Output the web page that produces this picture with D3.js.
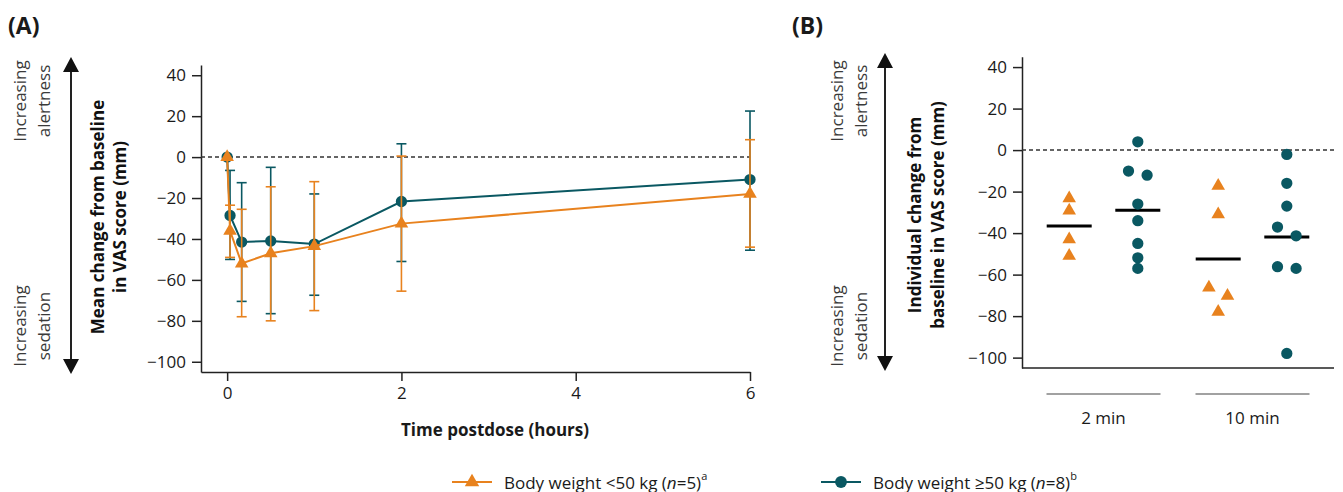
<!DOCTYPE html>
<html>
<head>
<meta charset="utf-8">
<script src="https://cdn.jsdelivr.net/npm/d3@7/dist/d3.min.js"></script>
<style>
  body { margin: 0; background: #fff; }
  svg text { font-family: "Open Sans", "Noto Sans", sans-serif; fill: #1a1a1a; }
</style>
</head>
<body>
<svg id="chart" width="1343" height="492"></svg>
<script>
// ---- data ----
// panel A: mean (SD) change from baseline, hours postdose
const times = [0, 2 / 60, 10 / 60, 0.5, 1, 2, 6];
const lowMean = [0, -36, -52, -47, -43.5, -32.5, -18];
const lowLo = [0, -49, -78, -80, -75, -65.5, -44];
const lowHi = [0, -23.5, -25.5, -14.5, -12, 0.5, 8.5];
const highMean = [0, -28.5, -41.5, -41, -42.5, -21.7, -11];
const highLo = [0, -50, -70.5, -76.5, -67.5, -51, -45.5];
const highHi = [0, -6.5, -12.5, -5, -18, 6.5, 22.5];
const xTicksA = [0, 2, 4, 6];
const yTicks = [40, 20, 0, -20, -40, -60, -80, -100];

// panel B: individual change from baseline
const groups = ["2 min", "10 min"];
const low2 = [-23.3, -29.2, -43, -51];
const high2 = [4, -10.1, -12.1, -26, -34, -45, -51.9, -57];
const low10 = [-17.2, -31, -66.2, -70.2, -77.9];
const high10 = [-2.1, -16, -27, -37.1, -41.3, -56.2, -57, -98];

const series = [
    {key: "low", color: "#E8821E", symbol: d3.symbolTriangle, label: "Body weight <50 kg (", n: "5", sup: "a"},
    {key: "high", color: "#0A5862", symbol: d3.symbolCircle, label: "Body weight \u226550 kg (", n: "8", sup: "b"}
];

const svg = d3.select("#chart");
const fmt = d => d < 0 ? "\u2212" + Math.abs(d) : String(d);
const FS = "17px";

function sideLabels(xArrow, xText1, xText2, yTop, yBot, title1, title2, xt1, xt2, yMid) {
    const g = svg.append("g");
    g.append("line")
        .attr("x1", xArrow).attr("x2", xArrow)
        .attr("y1", yTop + 12).attr("y2", yBot - 12)
        .attr("stroke", "#222").attr("stroke-width", 2);
    g.append("path")
        .attr("d", `M${xArrow},${yTop} L${xArrow - 8},${yTop + 15} L${xArrow + 8},${yTop + 15} Z`)
        .attr("fill", "#111");
    g.append("path")
        .attr("d", `M${xArrow},${yBot} L${xArrow - 8},${yBot - 15} L${xArrow + 8},${yBot - 15} Z`)
        .attr("fill", "#111");

    const rot = (x, y, txt, bold) => g.append("text")
        .attr("transform", `translate(${x},${y}) rotate(-90)`)
        .attr("text-anchor", "middle")
        .attr("dominant-baseline", "central")
        .style("font-size", FS)
        .style("font-weight", bold ? "bold" : "normal")
        .style("fill", bold ? "#111" : "#3a3a3a")
        .text(txt);

    rot(xText1, 101, "Increasing", false);
    rot(xText2, 101, "alertness", false);
    rot(xText1, 326, "Increasing", false);
    rot(xText2, 326, "sedation", false);
    rot(xt1, yMid, title1, true);
    rot(xt2, yMid, title2, true);
}

function styleAxis(g) {
    g.select(".domain").attr("stroke", "#222").attr("stroke-width", 1.5);
    g.selectAll(".tick line").attr("stroke", "#222").attr("stroke-width", 1.5);
    g.selectAll(".tick text").style("font-size", FS).style("fill", "#1a1a1a");
}

// ---------- panel A ----------
svg.append("text").attr("x", 8).attr("y", 34)
    .style("font-size", "23px").style("font-weight", "bold").text("(A)");

sideLabels(71, 19, 43, 57, 374, "Mean change from baseline", "in VAS score (mm)", 97, 119, 217);

const xA = d3.scaleLinear().domain([-0.3, 6]).range([201, 750]);
const yA = d3.scaleLinear().domain([-105, 45]).range([372, 65]);

svg.append("g").attr("transform", "translate(201,0)")
    .call(d3.axisLeft(yA).tickValues(yTicks).tickFormat(fmt).tickSize(9).tickPadding(6).tickSizeOuter(0))
    .call(styleAxis);
svg.append("g").attr("transform", "translate(0,372)")
    .call(d3.axisBottom(xA).tickValues(xTicksA).tickFormat(d3.format("d")).tickSize(9).tickPadding(6).tickSizeOuter(0))
    .call(styleAxis);

svg.append("text").attr("x", 495).attr("y", 436).attr("text-anchor", "middle")
    .style("font-size", FS).style("font-weight", "bold").text("Time postdose (hours)");

svg.append("line")
    .attr("x1", xA(-0.3)).attr("x2", xA(6)).attr("y1", yA(0)).attr("y2", yA(0))
    .attr("stroke", "#333").attr("stroke-width", 1.5).attr("stroke-dasharray", "4,3");

const aData = {
    low: times.map((t, i) => ({t, m: lowMean[i], lo: lowLo[i], hi: lowHi[i]})),
    high: times.map((t, i) => ({t, m: highMean[i], lo: highLo[i], hi: highHi[i]}))
};

const line = d3.line().x(d => xA(d.t)).y(d => yA(d.m));

// teal first, orange on top
[series[1], series[0]].forEach(s => {
    const g = svg.append("g");
    const pts = aData[s.key];
    const bars = pts.filter(d => d.hi !== d.lo);
    g.selectAll("line.err").data(bars).enter().append("line")
        .attr("x1", d => xA(d.t)).attr("x2", d => xA(d.t))
        .attr("y1", d => yA(d.hi)).attr("y2", d => yA(d.lo))
        .attr("stroke", s.color).attr("stroke-width", 1.6);
    ["hi", "lo"].forEach(k => {
        g.selectAll("line.cap" + k).data(bars).enter().append("line")
            .attr("x1", d => xA(d.t) - 5).attr("x2", d => xA(d.t) + 5)
            .attr("y1", d => yA(d[k])).attr("y2", d => yA(d[k]))
            .attr("stroke", s.color).attr("stroke-width", 1.6);
    });
    g.append("path").datum(pts).attr("d", line)
        .attr("fill", "none").attr("stroke", s.color).attr("stroke-width", 2);
    g.selectAll("path.pt").data(pts).enter().append("path")
        .attr("transform", d => `translate(${xA(d.t)},${yA(d.m)})`)
        .attr("d", d3.symbol().type(s.symbol).size(s.key === "low" ? 80 : 100))
        .attr("fill", s.color);
});

// ---------- panel B ----------
svg.append("text").attr("x", 792).attr("y", 34)
    .style("font-size", "23px").style("font-weight", "bold").text("(B)");

sideLabels(885, 836, 860, 53, 371, "Individual change from", "baseline in VAS score (mm)", 914, 937, 215);

const yB = d3.scaleLinear().domain([-105, 45]).range([368, 56.7]);
const xB = d3.scaleBand().domain(groups).range([1029, 1327]);
const xSub = d3.scalePoint().domain(["low", "high"]).range([-34.3, 34.3]);

svg.append("g").attr("transform", "translate(1022,0)")
    .call(d3.axisLeft(yB).tickValues(yTicks).tickFormat(fmt).tickSize(9).tickPadding(6).tickSizeOuter(0))
    .call(styleAxis);
svg.append("line").attr("x1", 1022).attr("x2", 1334).attr("y1", 368).attr("y2", 368)
    .attr("stroke", "#222").attr("stroke-width", 1.5);
svg.append("line").attr("x1", 1022).attr("x2", 1334).attr("y1", yB(0)).attr("y2", yB(0))
    .attr("stroke", "#333").attr("stroke-width", 1.5).attr("stroke-dasharray", "4,3");

groups.forEach(gName => {
    const cx = xB(gName) + xB.bandwidth() / 2;
    svg.append("line").attr("x1", cx - 57).attr("x2", cx + 57).attr("y1", 394).attr("y2", 394)
        .attr("stroke", "#444").attr("stroke-width", 1.2);
    svg.append("text").attr("x", cx).attr("y", 417).attr("text-anchor", "middle")
        .attr("dominant-baseline", "central").style("font-size", FS).text(gName);
});

const bData = [
    {group: "2 min", key: "low", vals: low2},
    {group: "2 min", key: "high", vals: high2},
    {group: "10 min", key: "low", vals: low10},
    {group: "10 min", key: "high", vals: high10}
];

// simple dodge: neighbouring points closer than ~one marker get split left/right
function dodge(vals) {
    const sorted = vals.slice().sort((a, b) => b - a);
    const out = [];
    for (let i = 0; i < sorted.length; i++) {
        const next = sorted[i + 1];
        if (next !== undefined && Math.abs(yB(sorted[i]) - yB(next)) < 10) {
            out.push({v: sorted[i], off: -1}, {v: next, off: 1});
            i++;
        } else {
            out.push({v: sorted[i], off: 0});
        }
    }
    return out;
}

bData.forEach(b => {
    const s = series.find(d => d.key === b.key);
    const cx = xB(b.group) + xB.bandwidth() / 2 + xSub(b.key);
    const mean = d3.mean(b.vals);
    svg.append("line").attr("x1", cx - 22.5).attr("x2", cx + 22.5)
        .attr("y1", yB(mean)).attr("y2", yB(mean))
        .attr("stroke", "#000").attr("stroke-width", 3);
    svg.append("g").selectAll("path").data(dodge(b.vals)).enter().append("path")
        .attr("transform", d => `translate(${cx + d.off * 9.3},${yB(d.v)})`)
        .attr("d", d3.symbol().type(s.symbol).size(s.key === "low" ? 80 : 100))
        .attr("fill", s.color);
});

// ---------- legend ----------
const legX = [452, 821];
series.forEach((s, i) => {
    const g = svg.append("g").attr("transform", `translate(${legX[i]},482)`);
    g.append("line").attr("x1", 0).attr("x2", 40).attr("stroke", s.color).attr("stroke-width", 2);
    g.append("path").attr("transform", "translate(20,0)")
        .attr("d", d3.symbol().type(s.symbol).size(s.key === "low" ? 90 : 110))
        .attr("fill", s.color);
    const t = g.append("text").attr("x", 52).attr("dominant-baseline", "central")
        .style("font-size", FS);
    t.append("tspan").text(s.label);
    t.append("tspan").style("font-style", "italic").text("n");
    t.append("tspan").text("=" + s.n + ")");
    t.append("tspan").attr("dy", -7).style("font-size", "11px").text(s.sup);
});
</script>
</body>
</html>
